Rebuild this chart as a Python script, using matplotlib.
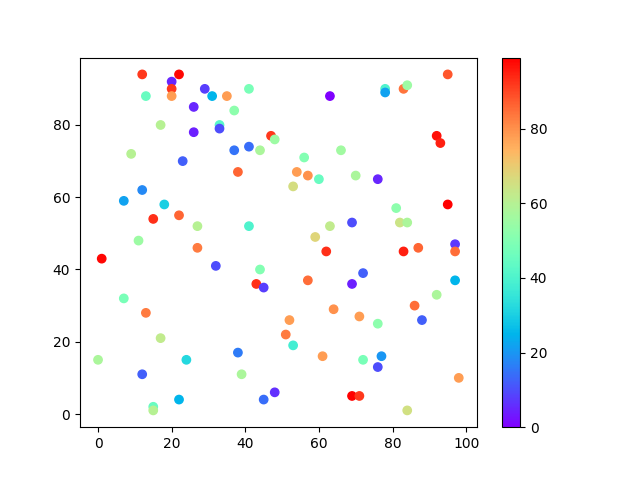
import matplotlib
matplotlib.use("Agg")
import matplotlib.pyplot as plt

# values (x, y, colour value)
x = [1, 0, 7, 7, 9, 11, 12, 12, 12, 13, 13, 15, 15, 15, 17, 17, 18, 20, 20, 20,
     22, 22, 22, 23, 24, 26, 26, 27, 27, 29, 31, 32, 33, 33, 35, 37, 37, 38, 38, 39,
     41, 41, 41, 43, 44, 44, 45, 45, 47, 48, 48, 51, 52, 53, 53, 54, 56, 57, 57, 59,
     60, 62, 63, 63, 64, 61, 66, 69, 69, 69, 71, 70, 71, 72, 72, 76, 76, 76, 77, 78,
     78, 81, 82, 84, 83, 84, 83, 84, 86, 87, 88, 92, 93, 92, 95, 95, 97, 97, 97, 98]
y = [43, 15, 59, 32, 72, 48, 94, 62, 11, 88, 28, 54, 2, 1, 80, 21, 58, 92, 90, 88,
     94, 55, 4, 70, 15, 85, 78, 52, 46, 90, 88, 41, 80, 79, 88, 84, 73, 67, 17, 11,
     90, 74, 52, 36, 73, 40, 35, 4, 77, 76, 6, 22, 26, 63, 19, 67, 71, 66, 37, 49,
     65, 45, 88, 52, 29, 16, 73, 53, 36, 5, 5, 66, 27, 39, 15, 65, 25, 13, 16, 90,
     89, 57, 53, 53, 90, 91, 45, 1, 30, 46, 26, 77, 75, 33, 94, 58, 47, 45, 37, 10]
c = [98, 58, 22, 48, 60, 55, 92, 18, 12, 45, 83, 93, 45, 60, 60, 62, 30, 5, 92, 78,
     98, 86, 25, 12, 32, 5, 4, 60, 83, 8, 25, 10, 42, 10, 78, 52, 15, 86, 16, 58,
     48, 14, 40, 93, 58, 50, 8, 14, 92, 55, 6, 83, 78, 66, 38, 78, 50, 80, 85, 68,
     45, 93, 0, 62, 80, 78, 56, 10, 4, 99, 92, 58, 78, 12, 48, 5, 52, 10, 20, 40,
     22, 52, 64, 58, 84, 55, 95, 65, 85, 86, 12, 97, 95, 58, 88, 99, 7, 85, 25, 78]

fig, ax = plt.subplots(figsize=(6.4, 4.8), dpi=100)
sc = ax.scatter(x, y, c=c, cmap="rainbow")
fig.colorbar(sc)

plt.savefig("out.png")
